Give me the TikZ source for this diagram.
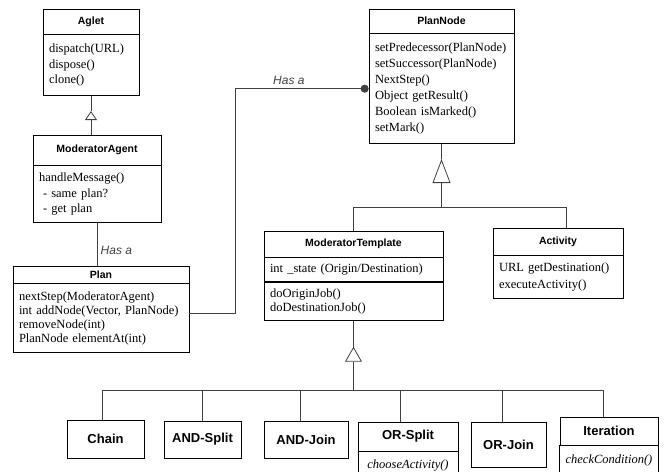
\documentclass[tikz,border=0pt]{standalone}
\usepackage{fontspec}
\setmainfont{Liberation Serif}
\setsansfont{Liberation Sans}
\usepackage{tikz}
\usetikzlibrary{positioning,arrows.meta}

\begin{document}
\begin{tikzpicture}[x=1pt, y=1pt,
    classname/.style={rectangle, draw, line width=0.7pt, inner sep=0pt, font=\sffamily\bfseries\fontsize{10.5}{12}\selectfont},
    members/.style={rectangle, draw, line width=0.7pt, inner xsep=6pt, inner ysep=0pt, align=left, font=\fontsize{12.5}{15.5}\selectfont},
    leaf/.style={rectangle, draw, line width=0.7pt, inner sep=0pt, font=\sffamily\bfseries\fontsize{13}{15}\selectfont},
    line/.style={draw, black!75, line width=0.8pt},
    gen/.style={line, -{Triangle[open, #1]}},
    has/.style={line, -{Circle[length=8pt]}},
    hasa/.style={font=\sffamily\itshape\fontsize{12}{14}\selectfont}]

    \useasboundingbox (0,0) rectangle (666,471);
    \clip (0,0) rectangle (666,471);

    % Agent classes
    \node [classname, minimum width=96pt, minimum height=25pt] (aglet) at (91,449.5) {Aglet};
    \node [members, below=0pt of aglet, text width=84pt, minimum height=61pt] (agletops) {dispatch(URL)\\dispose()\\clone()};

    \node [classname, minimum width=128pt, minimum height=30pt] (agent) at (97,321) {ModeratorAgent};
    \node [members, below=0pt of agent, text width=116pt, minimum height=57pt] (agentops) {handleMessage()\\\hspace{4pt}- same plan?\\\hspace{4pt}- get plan};

    \node [classname, minimum width=176pt, minimum height=17pt] (plan) at (101,196.5) {Plan};
    \node [members, below=0pt of plan, text width=164pt, minimum height=69pt, font=\fontsize{12.5}{14}\selectfont] (planops) {nextStep(ModeratorAgent)\\int addNode(Vector, PlanNode)\\removeNode(int)\\PlanNode elementAt(int)};

    % Plan nodes
    \node [classname, minimum width=145pt, minimum height=24pt] (plannode) at (441.5,450) {PlanNode};
    \node [members, below=0pt of plannode, text width=133pt, minimum height=110pt, font=\fontsize{12.5}{16}\selectfont] (plannodeops) {setPredecessor(PlanNode)\\setSuccessor(PlanNode)\\NextStep()\\Object getResult()\\Boolean isMarked()\\setMark()};

    \node [classname, minimum width=179pt, minimum height=26pt] (mtemp) at (353.5,227) {ModeratorTemplate};
    \node [members, below=0pt of mtemp, text width=167pt, minimum height=24pt] (mtempstate) {int \_state (Origin/Destination)};
    \node [members, below=0pt of mtempstate, text width=167pt, minimum height=38pt, font=\fontsize{12.5}{14}\selectfont] (mtempops) {doOriginJob()\\doDestinationJob()};

    \node [classname, minimum width=130pt, minimum height=27pt] (activity) at (558,229.5) {Activity};
    \node [members, below=0pt of activity, text width=118pt, minimum height=43pt, font=\fontsize{12.5}{17}\selectfont] (activityops) {URL getDestination()\\executeActivity()};

    % Templates
    \node [leaf, minimum width=77pt, minimum height=38pt] (chain) at (105.5,32) {Chain};
    \node [leaf, minimum width=77pt, minimum height=37pt] (andsplit) at (202.5,31.5) {AND-Split};
    \node [leaf, minimum width=84pt, minimum height=37pt] (andjoin) at (306,31.5) {AND-Join};
    \node [leaf, minimum width=100pt, minimum height=29pt] (orsplit) at (408,34.5) {OR-Split};
    \node [members, below=0pt of orsplit, align=center, minimum width=100pt, minimum height=28pt] (orsplitops) {\itshape chooseActivity()};
    \node [leaf, minimum width=75pt, minimum height=45pt] (orjoin) at (508.5,26.5) {OR-Join};
    \node [leaf, minimum width=98pt, minimum height=28pt] (iteration) at (609,40) {Iteration};
    \node [members, below=0pt of iteration, align=center, minimum width=98pt, minimum height=30pt] (iterationops) {\itshape checkCondition()};

    % Inheritance
    \coordinate [below=15pt of agletops] (aglettip);
    \draw [gen={width=12pt, length=9pt}] (agent.north -| aglettip) -- (aglettip);
    \draw [line] (aglettip) -- (agletops);

    \coordinate [below=15pt of plannodeops] (plannodetip);
    \coordinate [below=63pt of plannodeops] (plannodebus);
    \draw [line] (mtemp) |- (plannodebus);
    \draw [line] ([xshift=8pt]activity.north) |- (plannodebus);
    \draw [gen={width=18pt, length=24pt}] (plannodebus) -- (plannodetip);
    \draw [line] (plannodetip) -- (plannodeops);

    \coordinate [below=26pt of mtempops] (mtemptip);
    \coordinate [below=70pt of mtempops] (mtempbus);
    \draw [gen={width=17pt, length=15pt}] (mtempbus) -- (mtemptip);
    \draw [line] (mtemptip) -- (mtempops);
    \foreach \kind/\dx in {chain/-3.5, andsplit/0, andjoin/-6, orsplit/-8, orjoin/-6.5, iteration/-6}
        \draw [line] ([xshift=\dx pt]\kind.north) |- (mtempbus);

    % Has a
    \draw [line] (agentops) -- node [hasa, right, pos=0.64] {Has a} (agentops |- plan.north);
    \draw [has] ([yshift=4.5pt]planops.east) -| ([xshift=-133pt]plannodeops.west) -- node [hasa, above, pos=0.4] {Has a} (plannodeops.west);

\end{tikzpicture}
\end{document}
